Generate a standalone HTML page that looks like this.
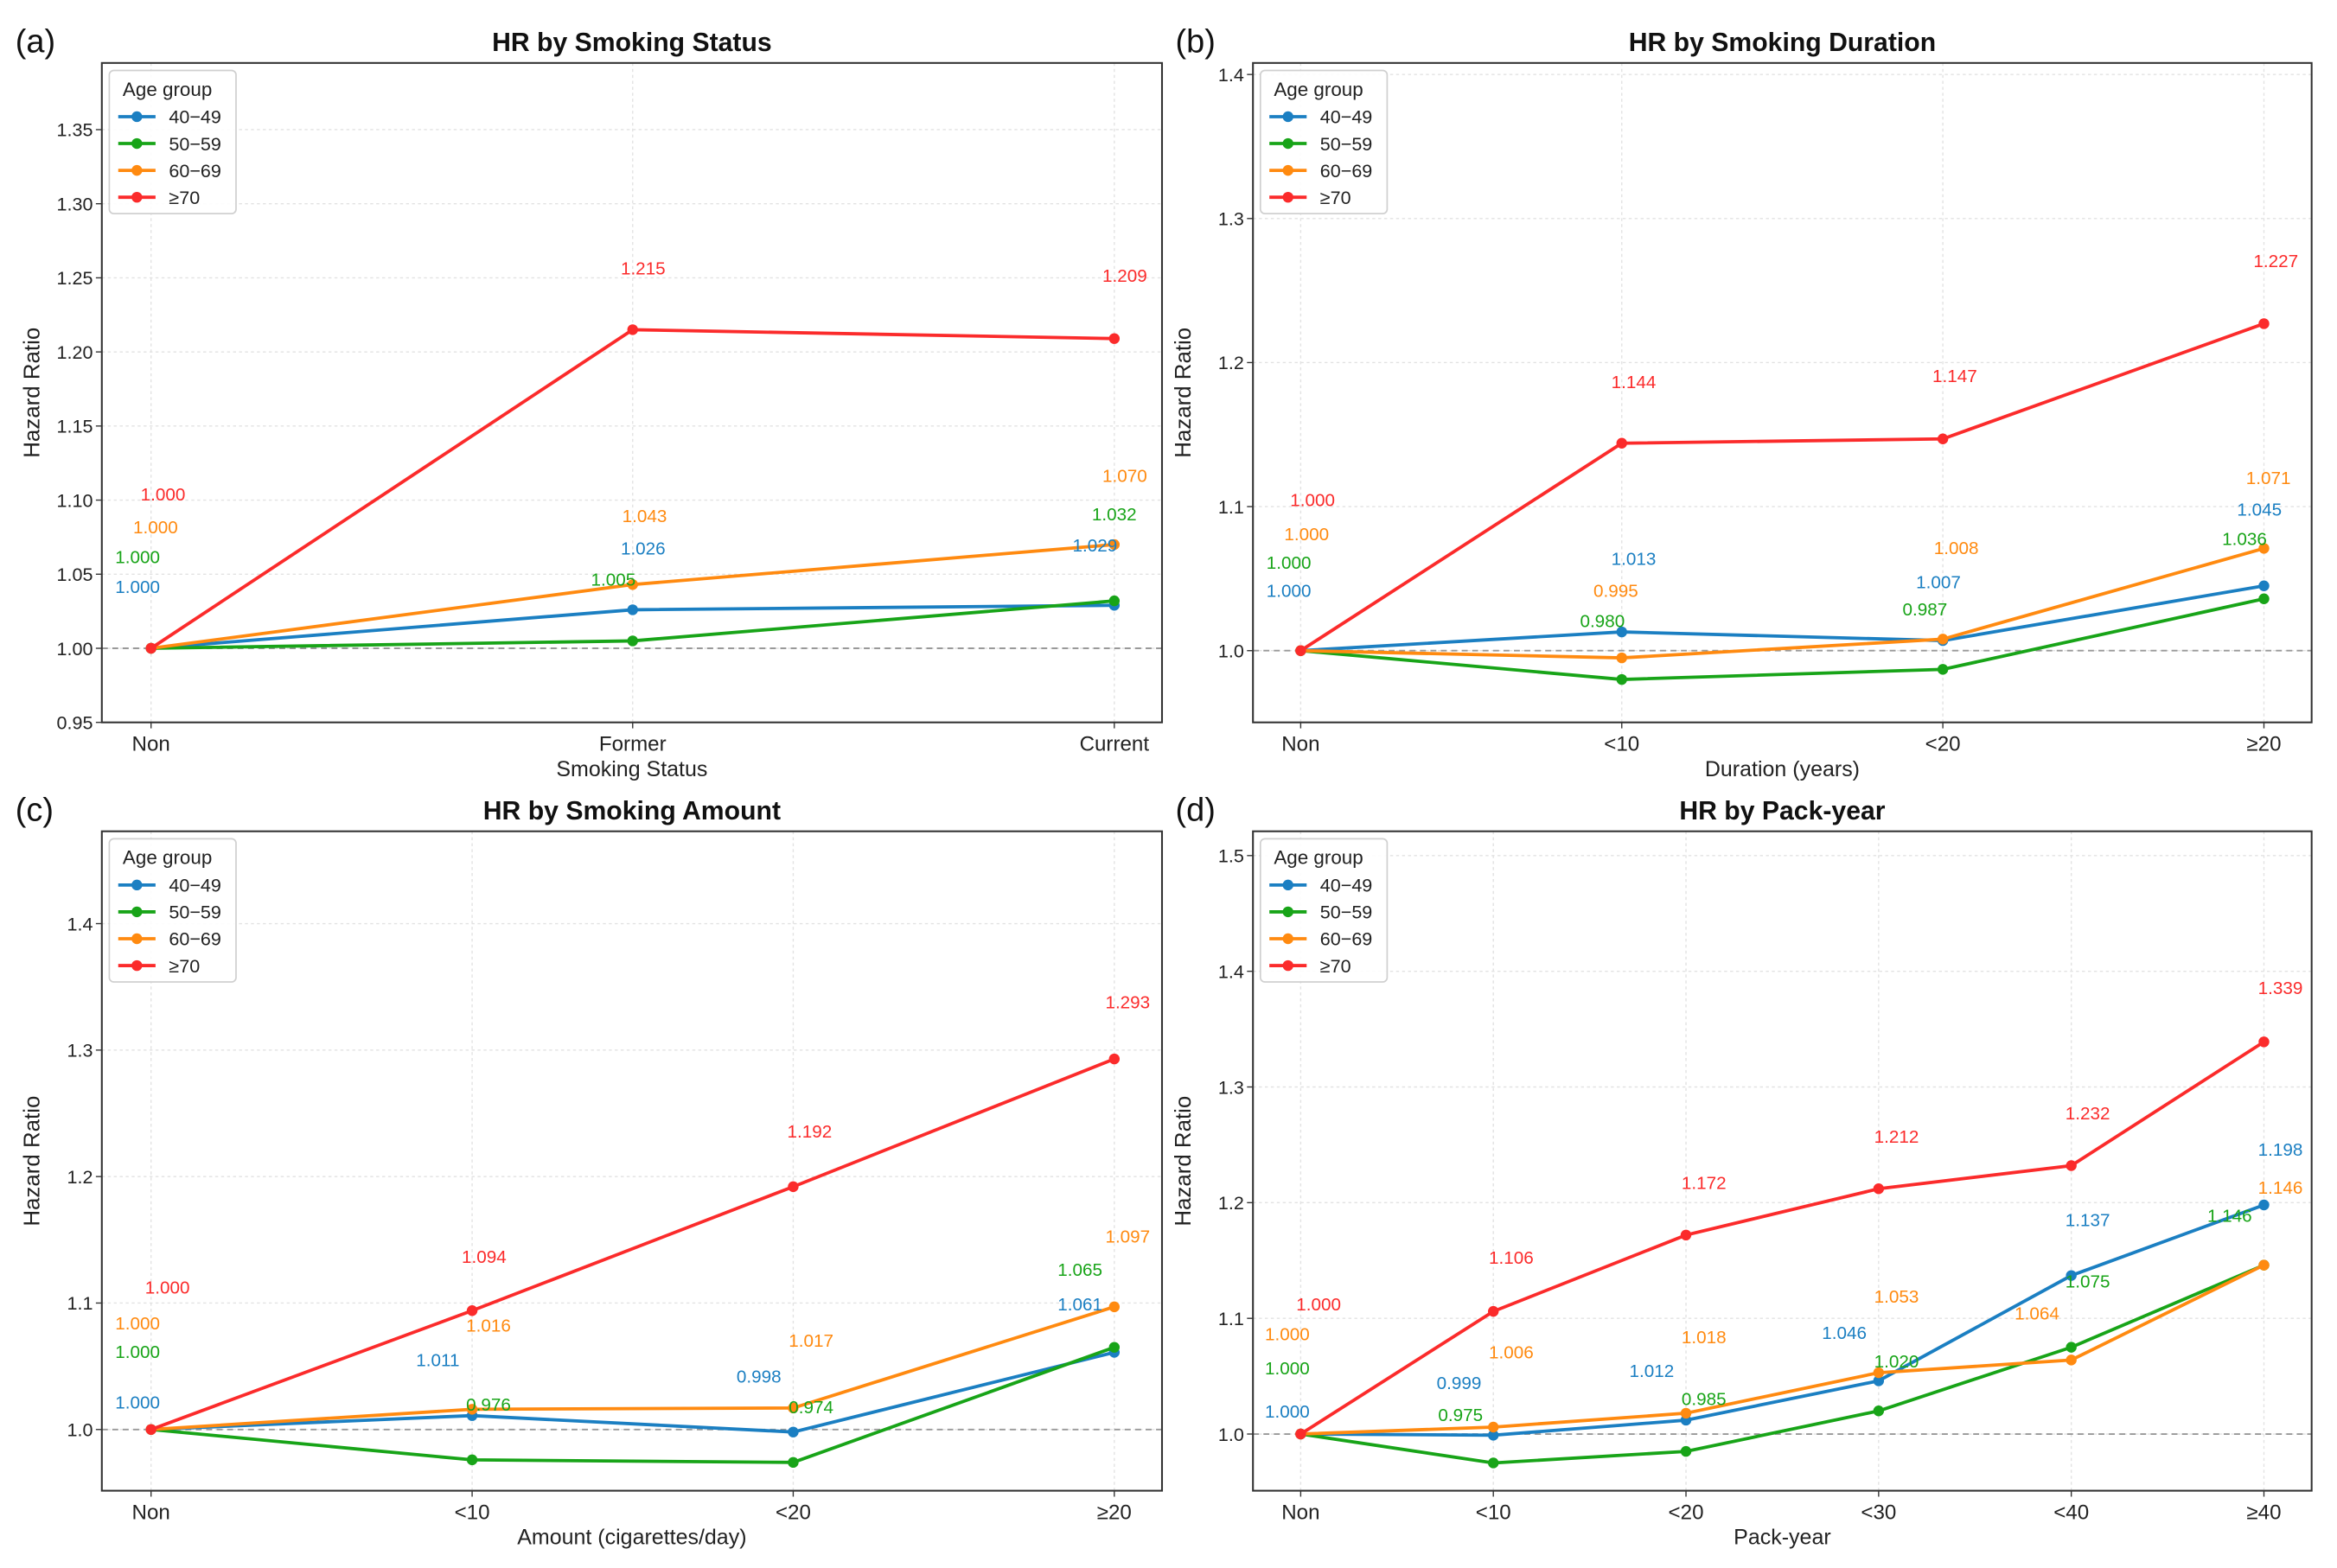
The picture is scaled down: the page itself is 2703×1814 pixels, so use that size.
<!DOCTYPE html>
<html><head><meta charset="utf-8"><style>
html,body{margin:0;padding:0;background:#fff;}
svg{display:block;font-family:"Liberation Sans Narrow","Liberation Sans","DejaVu Sans",sans-serif;}
</style></head><body>
<svg id="fig" width="2703" height="1814" viewBox="-0.3 -0.2 1567.3 1051" preserveAspectRatio="none" xmlns="http://www.w3.org/2000/svg"></svg>
<script>
const seriesNames = ["40\u221249","50\u221259","60\u221269","\u226570"];
const colors = ["#1b7fc2","#18a418","#ff8a10","#fb2b2b"];

const catsA = ["Non","Former","Current"];
const a4049 = [1.000,1.026,1.029];
const a5059 = [1.000,1.005,1.032];
const a6069 = [1.000,1.043,1.070];
const a70 = [1.000,1.215,1.209];
const ticksA = [0.95,1.00,1.05,1.10,1.15,1.20,1.25,1.30,1.35];
const tickLabelsA = ["0.95","1.00","1.05","1.10","1.15","1.20","1.25","1.30","1.35"];

const catsB = ["Non","<10","<20","\u226520"];
const b4049 = [1.000,1.013,1.007,1.045];
const b5059 = [1.000,0.980,0.987,1.036];
const b6069 = [1.000,0.995,1.008,1.071];
const b70 = [1.000,1.144,1.147,1.227];
const ticksB = [1.0,1.1,1.2,1.3,1.4];
const tickLabelsB = ["1.0","1.1","1.2","1.3","1.4"];

const catsC = ["Non","<10","<20","\u226520"];
const c4049 = [1.000,1.011,0.998,1.061];
const c5059 = [1.000,0.976,0.974,1.065];
const c6069 = [1.000,1.016,1.017,1.097];
const c70 = [1.000,1.094,1.192,1.293];
const ticksC = [1.0,1.1,1.2,1.3,1.4];
const tickLabelsC = ["1.0","1.1","1.2","1.3","1.4"];

const catsD = ["Non","<10","<20","<30","<40","\u226540"];
const d4049 = [1.000,0.999,1.012,1.046,1.137,1.198];
const d5059 = [1.000,0.975,0.985,1.020,1.075,1.146];
const d6069 = [1.000,1.006,1.018,1.053,1.064,1.146];
const d70 = [1.000,1.106,1.172,1.212,1.232,1.339];
const ticksD = [1.0,1.1,1.2,1.3,1.4,1.5];
const tickLabelsD = ["1.0","1.1","1.2","1.3","1.4","1.5"];

// label placement (styling, display px offsets from each point)
const offA = {dx:[[-9,7,-13],[-9,-13,0],[3,8,7],[8,7,7]], dy:[[-41,-41,-40],[-61,-41,-58],[-81,-46,-46],[-103,-41,-42]]};
const offB = {dx:[[-8,8,-3,-3],[-8,-13,-12,-13],[4,-4,9,3],[8,8,8,8]], dy:[[-40,-49,-39,-51],[-59,-39,-40,-40],[-78,-45,-61,-47],[-101,-41,-42,-42]]};
const offC = {dx:[[-9,-23,-23,-23],[-9,11,12,-23],[-9,11,12,9],[11,8,11,9]], dy:[[-18,-37,-37,-32],[-52,-37,-37,-52],[-71,-56,-45,-47],[-95,-36,-37,-38]]};
const offD = {dx:[[-9,-23,-23,-23,11,11],[-9,-22,12,12,11,-23],[-9,12,12,12,-23,11],[12,12,12,12,11,11]], dy:[[-15,-35,-33,-32,-37,-37],[-44,-32,-35,-33,-44,-33],[-67,-50,-51,-51,-31,-52],[-87,-36,-35,-35,-35,-36]]};

const NS = "http://www.w3.org/2000/svg";
const svg = document.getElementById("fig");
function mk(tag, attrs, parent, text){
  const e = document.createElementNS(NS, tag);
  for (const k in attrs) e.setAttribute(k, attrs[k]);
  if (text !== undefined) e.textContent = text;
  (parent||svg).appendChild(e);
  return e;
}

function panel(cfg){
  const g = mk("g", {});
  
  
  const L=cfg.L,R=cfg.R,T=cfg.T,B=cfg.B;
  const y = v => B - (v - cfg.ymin)/(cfg.ymax - cfg.ymin)*(B-T);
  const n = cfg.cats.length;
  const x = i => cfg.x0 + i*(cfg.x1-cfg.x0)/(n-1);
  cfg.ticks.forEach((t,i)=>{
    const gl = mk("line",{x1:L,x2:R,y1:y(t),y2:y(t),stroke:"#e2e2e2","stroke-width":0.8,"stroke-dasharray":"2,2"},g);
    
    
    mk("line",{x1:L-4,x2:L,y1:y(t),y2:y(t),stroke:"#333","stroke-width":0.8},g);
    const tl = mk("text",{x:L-6,y:y(t)+4.5,"text-anchor":"end","font-size":12.5,fill:"#222"},g,cfg.tickLabels[i]);
    
    
  });
  cfg.cats.forEach((c,i)=>{
    const gl = mk("line",{x1:x(i),x2:x(i),y1:T,y2:B,stroke:"#e2e2e2","stroke-width":0.8,"stroke-dasharray":"2,2"},g);
    
    
    mk("line",{x1:x(i),x2:x(i),y1:B,y2:B+4,stroke:"#333","stroke-width":0.8},g);
    const tl = mk("text",{x:x(i),y:B+19,"text-anchor":"middle","font-size":14,fill:"#222"},g,c);
    
    
  });
  const ref = mk("line",{x1:L,x2:R,y1:y(1),y2:y(1),stroke:"#999","stroke-width":1.1,"stroke-dasharray":"4,3"},g);
  
  
  cfg.series.forEach((vals,s)=>{
    const pts = vals.map((v,i)=>x(i)+","+y(v)).join(" ");
    const pl = mk("polyline",{points:pts,fill:"none",stroke:colors[s],"stroke-width":2.2},g);
    
    
    vals.forEach((v,i)=>{
      const c = mk("circle",{cx:x(i),cy:y(v),r:3.6,fill:colors[s]},g);
      
      
    });
  });
  cfg.series.forEach((vals,s)=>{
    vals.forEach((v,i)=>{
      const dx = cfg.off.dx[s][i], dy = cfg.off.dy[s][i];
      const t = mk("text",{x:x(i)+dx,y:y(v)+dy+4,"text-anchor":"middle","font-size":12,fill:colors[s]},g,v.toFixed(3));
      
      
    });
  });
  const fr = mk("rect",{x:L,y:T,width:R-L,height:B-T,fill:"none",stroke:"#333","stroke-width":1.2},g);
  
  
  const ti = mk("text",{x:(L+R)/2,y:T-8,"text-anchor":"middle","font-size":17.5,"font-weight":"bold",fill:"#111",style:"font-family:'Liberation Sans',sans-serif"},g,cfg.title);
  
  
  const pl = mk("text",{x:cfg.letterX,y:T-7,"font-size":22,fill:"#111",style:"font-family:'Liberation Sans',sans-serif"},g,cfg.letter);
  
  
  const xl = mk("text",{x:(L+R)/2,y:B+36,"text-anchor":"middle","font-size":14.5,fill:"#222"},g,cfg.xlabel);
  
  
  const yx = L-42, yy=(T+B)/2;
  const yl = mk("text",{x:yx,y:yy,"text-anchor":"middle","font-size":15,fill:"#222",transform:"rotate(-90 "+yx+" "+yy+")",style:"font-family:'Liberation Sans',sans-serif"},g,"Hazard Ratio");
  
  
  const lg = mk("g",{},g);
  
  
  mk("rect",{x:L+5,y:T+5,width:85,height:96,rx:3,fill:"#fff","fill-opacity":0.9,stroke:"#d0d0d0","stroke-width":1},lg);
  mk("text",{x:L+14,y:T+22,"font-size":13,fill:"#222"},lg,"Age group");
  seriesNames.forEach((nm,s)=>{
    const ly = T+36+s*18;
    const le = mk("g",{},lg);
    
    
    mk("line",{x1:L+11,x2:L+36,y1:ly,y2:ly,stroke:colors[s],"stroke-width":2.2},le);
    mk("circle",{cx:L+23.5,cy:ly,r:3.6,fill:colors[s]},le);
    mk("text",{x:L+45,y:ly+4.5,"font-size":12.5,fill:"#222"},le,nm);
  });
}

panel({id:"a",letter:"(a)",letterX:10,title:"HR by Smoking Status",xlabel:"Smoking Status",L:68,R:779,T:42,B:484,x0:101,x1:747,ymin:0.95,ymax:1.395,cats:catsA,series:[a4049,a5059,a6069,a70],ticks:ticksA,tickLabels:tickLabelsA,off:offA});
panel({id:"b",letter:"(b)",letterX:788,title:"HR by Smoking Duration",xlabel:"Duration (years)",L:840,R:1550,T:42,B:484,x0:872,x1:1518,ymin:0.9502,ymax:1.408,cats:catsB,series:[b4049,b5059,b6069,b70],ticks:ticksB,tickLabels:tickLabelsB,off:offB});
panel({id:"c",letter:"(c)",letterX:10,title:"HR by Smoking Amount",xlabel:"Amount (cigarettes/day)",L:68,R:779,T:557,B:999,x0:101,x1:747,ymin:0.9516,ymax:1.473,cats:catsC,series:[c4049,c5059,c6069,c70],ticks:ticksC,tickLabels:tickLabelsC,off:offC});
panel({id:"d",letter:"(d)",letterX:788,title:"HR by Pack-year",xlabel:"Pack-year",L:840,R:1550,T:557,B:999,x0:872,x1:1518,ymin:0.951,ymax:1.521,cats:catsD,series:[d4049,d5059,d6069,d70],ticks:ticksD,tickLabels:tickLabelsD,off:offD});
</script>
</body></html>
